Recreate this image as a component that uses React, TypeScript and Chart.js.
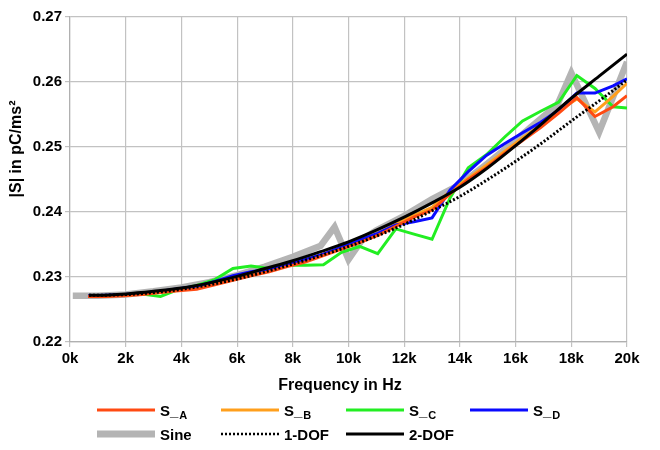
import React, { useEffect, useRef } from "react";
import { Chart, registerables } from "chart.js";

Chart.register(...registerables);

// Frequencies (Hz) for the measured sensitivities S_A..S_D
const FREQ_HZ = [650, 1300, 1950, 2600, 3250, 3900, 4550, 5200, 5850, 6500, 7150, 7800, 8450, 9100, 9750, 10400, 11050, 11700, 12350, 13000, 13650, 14300, 14950, 15600, 16250, 16900, 17550, 18200, 18850, 19500, 20000];

const S_A = [0.2270, 0.2270, 0.2271, 0.2273, 0.2276, 0.2279, 0.2281, 0.2288, 0.2295, 0.2302, 0.2308, 0.2316, 0.2323, 0.2333, 0.2343, 0.2353, 0.2364, 0.2378, 0.2392, 0.2403, 0.2428, 0.2450, 0.2468, 0.2490, 0.2510, 0.2530, 0.2552, 0.2576, 0.2547, 0.2562, 0.2579];
const S_B = [0.2271, 0.2271, 0.2272, 0.2274, 0.2277, 0.2281, 0.2284, 0.2290, 0.2297, 0.2304, 0.2310, 0.2318, 0.2326, 0.2335, 0.2346, 0.2356, 0.2367, 0.2381, 0.2395, 0.2407, 0.2432, 0.2452, 0.2472, 0.2493, 0.2514, 0.2534, 0.2556, 0.2574, 0.2554, 0.2578, 0.2598];
const S_C = [0.2271, 0.2271, 0.2272, 0.2274, 0.2270, 0.2281, 0.2287, 0.2296, 0.2313, 0.2317, 0.2313, 0.2318, 0.2318, 0.2319, 0.2338, 0.2347, 0.2336, 0.2374, 0.2366, 0.2358, 0.2422, 0.2468, 0.2488, 0.2515, 0.2540, 0.2555, 0.2569, 0.2610, 0.2590, 0.2562, 0.2560];
const S_D = [0.2271, 0.2272, 0.2273, 0.2275, 0.2278, 0.2282, 0.2286, 0.2293, 0.2302, 0.2308, 0.2312, 0.2319, 0.2327, 0.2335, 0.2346, 0.2357, 0.2367, 0.2380, 0.2385, 0.2391, 0.2434, 0.2462, 0.2487, 0.2505, 0.2522, 0.2538, 0.2557, 0.2583, 0.2583, 0.2594, 0.2605];

// Sine excitation reference
const SINE_FREQ = [100, 1000, 2000, 3000, 4000, 5000, 6000, 7000, 8000, 9000, 9500, 10000, 10500, 11000, 12000, 13000, 14000, 15000, 16000, 16500, 17500, 18000, 19000, 20000];
const SINE = [0.2271, 0.2271, 0.2273, 0.2278, 0.2284, 0.2292, 0.2303, 0.2316, 0.2331, 0.2348, 0.2377, 0.2327, 0.2358, 0.2372, 0.2394, 0.2420, 0.2442, 0.2475, 0.2510, 0.2529, 0.2565, 0.2614, 0.2523, 0.2631];

// Model curves
const MODEL_FREQ = [680, 1000, 2000, 3000, 4000, 5000, 6000, 7000, 8000, 9000, 10000, 11000, 12000, 13000, 14000, 15000, 16000, 17000, 18000, 19000, 20000];
const DOF1 = [0.2272, 0.2272, 0.2273, 0.2276, 0.2281, 0.2288, 0.2297, 0.2308, 0.2320, 0.2333, 0.2347, 0.2363, 0.2381, 0.2402, 0.2424, 0.2450, 0.2478, 0.2508, 0.2540, 0.2571, 0.2603];
const DOF2 = [0.2272, 0.2272, 0.2274, 0.2278, 0.2283, 0.2291, 0.2301, 0.2313, 0.2325, 0.2339, 0.2354, 0.2372, 0.2392, 0.2414, 0.2438, 0.2468, 0.2502, 0.2538, 0.2575, 0.2609, 0.2643];

const X_TICKS = [0, 2000, 4000, 6000, 8000, 10000, 12000, 14000, 16000, 18000, 20000];
const Y_TICKS = [0.22, 0.23, 0.24, 0.25, 0.26, 0.27];

const LEGEND_MAIN = ["S_", "S_", "S_", "S_", "Sine", "1-DOF", "2-DOF"];
const LEGEND_SUB = ["A", "B", "C", "D", "", "", ""];

const FONT = "'Liberation Sans', Arial, sans-serif";

const pts = (xs: number[], ys: number[]) => xs.map((x, i) => ({ x, y: ys[i] }));

const overlayPlugin = {
  id: "overlay",
  afterDraw(chart: any) {
    const ctx = chart.ctx as CanvasRenderingContext2D;
    ctx.save();
    ctx.fillStyle = "#000";
    // x title
    ctx.font = `bold 16px ${FONT}`;
    ctx.textAlign = "center";
    ctx.textBaseline = "middle";
    ctx.fillText("Frequency in Hz", 340, 386);
    // y title
    ctx.save();
    ctx.translate(17, 149);
    ctx.rotate(-Math.PI / 2);
    ctx.fillText("|S| in pC/ms²", 0, 0);
    ctx.restore();
    // legend
    const colX = [97, 221, 346, 470];
    const rowY = [410, 434];
    chart.data.datasets.forEach((ds: any, i: number) => {
      const c = i % 4;
      const r = Math.floor(i / 4);
      const x0 = colX[c];
      const y = rowY[r];
      ctx.save();
      ctx.beginPath();
      ctx.strokeStyle = ds.borderColor;
      ctx.lineWidth = ds.legendWidth;
      ctx.setLineDash(ds.borderDash || []);
      ctx.lineCap = "butt";
      ctx.moveTo(x0, y);
      ctx.lineTo(x0 + 58, y);
      ctx.stroke();
      ctx.restore();
      ctx.textAlign = "left";
      ctx.textBaseline = "middle";
      ctx.font = `bold 15px ${FONT}`;
      const tx = x0 + 63;
      const main = LEGEND_MAIN[i];
      ctx.fillText(main, tx, y + 2);
      const sub = LEGEND_SUB[i];
      if (sub) {
        const w = ctx.measureText(main).width;
        ctx.font = `bold 11px ${FONT}`;
        ctx.fillText(sub, tx + w + 1, y + 6);
      }
    });
    ctx.restore();
  },
};

export default function App() {
  const ref = useRef<HTMLCanvasElement>(null);
  useEffect(() => {
    document.body.style.margin = "0";
    const canvas = ref.current;
    if (!canvas) return;
    const chart = new Chart(canvas, {
      type: "line",
      data: {
        datasets: [
          { label: "S_A", data: pts(FREQ_HZ, S_A), borderColor: "#ff4a12", borderWidth: 3, legendWidth: 3, order: 3, tension: 0 } as any,
          { label: "S_B", data: pts(FREQ_HZ, S_B), borderColor: "#ff9f1c", borderWidth: 3, legendWidth: 3, order: 5, tension: 0 } as any,
          { label: "S_C", data: pts(FREQ_HZ, S_C), borderColor: "#22ee22", borderWidth: 3, legendWidth: 3, order: 6, tension: 0 } as any,
          { label: "S_D", data: pts(FREQ_HZ, S_D), borderColor: "#0a0aff", borderWidth: 3, legendWidth: 3, order: 4, tension: 0 } as any,
          { label: "Sine", data: pts(SINE_FREQ, SINE), borderColor: "#b4b4b4", borderWidth: 6.5, legendWidth: 7, order: 10, tension: 0 } as any,
          { label: "1-DOF", data: pts(MODEL_FREQ, DOF1), borderColor: "#000000", borderWidth: 3, borderDash: [2, 2], legendWidth: 2.5, order: 2, cubicInterpolationMode: "monotone" } as any,
          { label: "2-DOF", data: pts(MODEL_FREQ, DOF2), borderColor: "#000000", borderWidth: 3, legendWidth: 3, order: 1, cubicInterpolationMode: "monotone" } as any,
        ],
      },
      options: {
        responsive: false,
        animation: false,
        layout: { padding: { top: 17, right: 33, left: 0, bottom: 0 } },
        elements: { point: { radius: 0 }, line: { borderCapStyle: "butt", borderJoinStyle: "miter" } },
        plugins: { legend: { display: false }, tooltip: { enabled: false } },
        scales: {
          x: {
            type: "linear",
            min: 0,
            max: 20000,
            afterFit: (s: any) => { s.height = 108; },
            afterBuildTicks: (s: any) => { s.ticks = X_TICKS.map((v) => ({ value: v })); },
            ticks: {
              color: "#000",
              font: { family: FONT, size: 15, weight: "bold" },
              padding: 3,
              maxRotation: 0,
              callback: (v: any) => `${Number(v) / 1000}k`,
            },
            grid: { color: "#c2c2c2", lineWidth: 1.2, tickLength: 5, drawTicks: true },
            border: { color: "#b0b0b0", width: 1.2 },
          },
          y: {
            min: 0.22,
            max: 0.27,
            afterFit: (s: any) => { s.width = 70; },
            afterBuildTicks: (s: any) => { s.ticks = Y_TICKS.map((v) => ({ value: v })); },
            ticks: {
              color: "#000",
              font: { family: FONT, size: 15, weight: "bold" },
              padding: 3,
              callback: (v: any) => Number(v).toFixed(2),
            },
            grid: { color: "#c2c2c2", lineWidth: 1.2, tickLength: 5, drawTicks: true },
            border: { color: "#b0b0b0", width: 1.2 },
          },
        },
      } as any,
      plugins: [overlayPlugin],
    });
    return () => chart.destroy();
  }, []);
  return (
    <div style={{ width: 660, height: 450, background: "#fff" }}>
      <canvas ref={ref} width={660} height={450} />
    </div>
  );
}
